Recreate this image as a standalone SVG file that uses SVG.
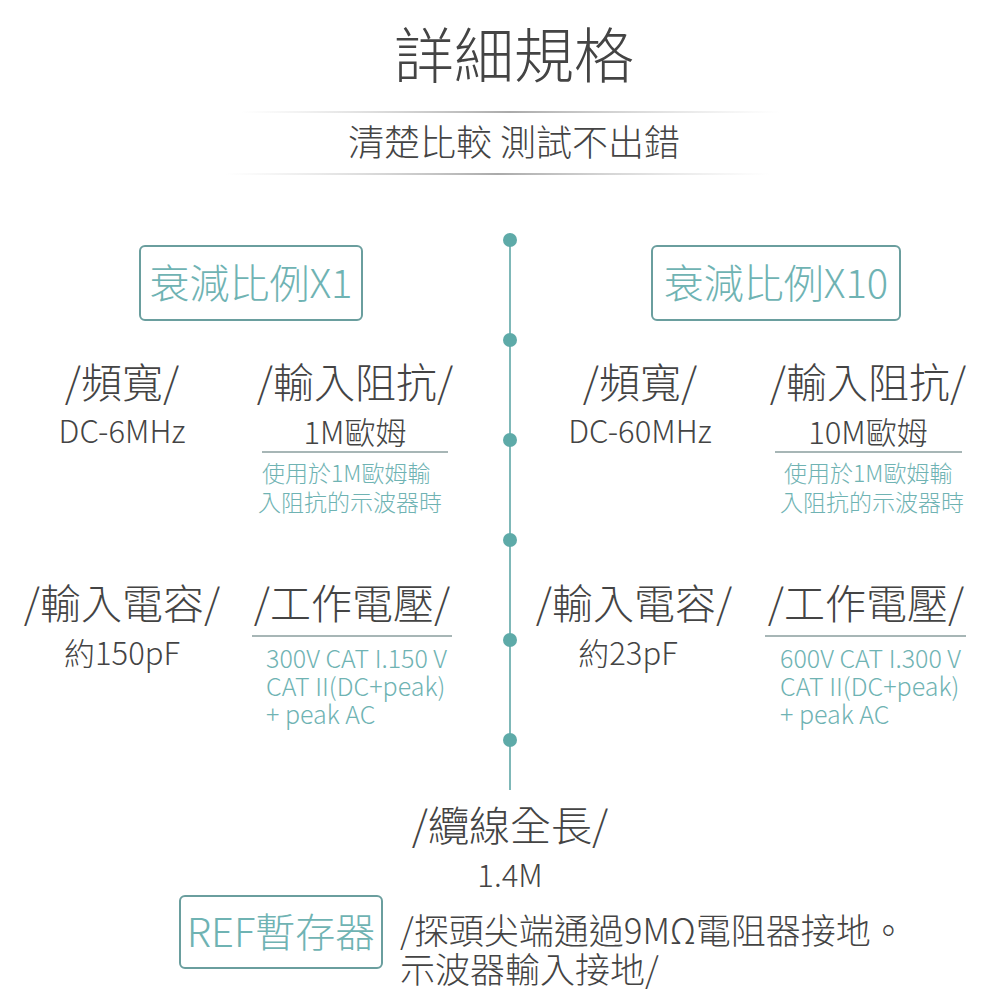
<svg xmlns="http://www.w3.org/2000/svg" width="1000" height="1000" viewBox="0 0 1000 1000">
<defs>
<linearGradient id="g" x1="0" x2="1" y1="0" y2="0">
<stop offset="0" stop-color="#ccc" stop-opacity="0"/><stop offset="0.5" stop-color="#aaa"/><stop offset="1" stop-color="#ccc" stop-opacity="0"/>
</linearGradient>
<style>
text{font-family:"Noto Sans CJK TC","Noto Sans",sans-serif;font-weight:300;}
.d{fill:#444;}
.h{font-size:41px;text-anchor:middle;fill:#444;}
.v{font-size:31px;text-anchor:middle;fill:#444;}
.t{font-size:23px;fill:#6fb3b3;}
.w{font-size:25px;fill:#6fb3b3;}
.box{fill:none;stroke:#6a9e9e;stroke-width:2;}
.bt{font-size:40px;fill:#6fb3b3;text-anchor:middle;}
.ul{stroke:#8a9e9e;stroke-width:1.5;}
.dot{fill:#5eaaa8;}
</style>
</defs>
<rect width="1000" height="1000" fill="#fff"/>
<g id="title">
<text x="514" y="78" class="d" font-size="60" text-anchor="middle">詳細規格</text>
<rect x="240" y="111" width="540" height="2" fill="url(#g)"/>
<text x="514" y="156" class="d" font-size="36" text-anchor="middle">清楚比較 測試不出錯</text>
<rect x="225" y="173" width="545" height="2" fill="url(#g)"/>
</g>
<g id="connectors">
<line x1="510" y1="240" x2="510" y2="790" stroke="#7fb8b8" stroke-width="2"/>
<circle class="dot" cx="510" cy="240" r="7"/>
<circle class="dot" cx="510" cy="340" r="7"/>
<circle class="dot" cx="510" cy="440" r="7"/>
<circle class="dot" cx="510" cy="540" r="7"/>
<circle class="dot" cx="510" cy="640" r="7"/>
<circle class="dot" cx="510" cy="740" r="7"/>
</g>
<g id="x1">
<rect class="box" x="140" y="246" width="222" height="74" rx="5"/>
<text class="bt" x="251" y="298">衰減比例X1</text>
</g>
<g id="x10">
<rect class="box" x="652" y="246" width="248" height="74" rx="5"/>
<text class="bt" x="776" y="298">衰減比例X10</text>
</g>
<g id="l-bw">
<text class="h" x="122" y="398">/頻寬/</text>
<text class="v" x="122" y="443">DC-6MHz</text>
</g>
<g id="l-imp">
<text class="h" x="355" y="398">/輸入阻抗/</text>
<text class="v" x="355" y="444">1M歐姆</text>
<line class="ul" x1="262" y1="452" x2="448" y2="452"/>
<text class="t" x="262" y="482">使用於1M歐姆輸</text>
<text class="t" x="258" y="511">入阻抗的示波器時</text>
</g>
<g id="l-cap">
<text class="h" x="122" y="619">/輸入電容/</text>
<text class="v" x="122" y="665">約150pF</text>
</g>
<g id="l-volt">
<text class="h" x="352" y="619">/工作電壓/</text>
<line class="ul" x1="252" y1="636" x2="452" y2="636"/>
<text class="w" x="266" y="668">300V CAT I.150 V</text>
<text class="w" x="266" y="696">CAT II(DC+peak)</text>
<text class="w" x="266" y="724">+ peak AC</text>
</g>
<g id="r-bw">
<text class="h" x="640" y="398">/頻寬/</text>
<text class="v" x="640" y="443">DC-60MHz</text>
</g>
<g id="r-imp">
<text class="h" x="868" y="398">/輸入阻抗/</text>
<text class="v" x="868" y="444">10M歐姆</text>
<line class="ul" x1="775" y1="452" x2="962" y2="452"/>
<text class="t" x="784" y="482">使用於1M歐姆輸</text>
<text class="t" x="780" y="511">入阻抗的示波器時</text>
</g>
<g id="r-cap">
<text class="h" x="634" y="619">/輸入電容/</text>
<text class="v" x="628" y="665">約23pF</text>
</g>
<g id="r-volt">
<text class="h" x="866" y="619">/工作電壓/</text>
<line class="ul" x1="765" y1="636" x2="966" y2="636"/>
<text class="w" x="780" y="668">600V CAT I.300 V</text>
<text class="w" x="780" y="696">CAT II(DC+peak)</text>
<text class="w" x="780" y="724">+ peak AC</text>
</g>
<g id="cable">
<text class="h" x="510" y="841">/纜線全長/</text>
<text class="v" x="510" y="887">1.4M</text>
</g>
<g id="ref">
<rect class="box" x="180" y="896" width="202" height="72" rx="5"/>
<text class="bt" x="281" y="947">REF暫存器</text>
<text class="d" x="400" y="944" font-size="35">/探頭尖端通過9MΩ電阻器接地。</text>
<text class="d" x="400" y="983" font-size="35">示波器輸入接地/</text>
</g>
</svg>
